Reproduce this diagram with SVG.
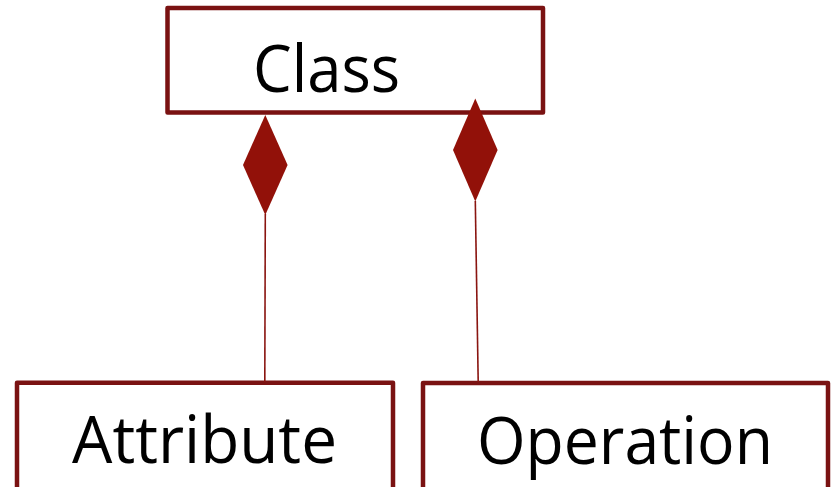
<svg xmlns="http://www.w3.org/2000/svg" width="837" height="487" viewBox="0 0 837 487">
  <defs>
    <style>
      .box { fill: #ffffff; stroke: #7a1212; stroke-width: 4.5; stroke-linejoin: round; }
      .label { font-family: "Open Sans", "Liberation Sans", sans-serif; font-size: 66px; fill: #000000; }
      .link { stroke: #8a1510; stroke-width: 1.6; fill: none; }
      .diamond { fill: #921109; stroke: none; }
    </style>
  </defs>
  <rect width="837" height="487" fill="#ffffff"/>

  <g id="class">
    <rect class="box" x="167.5" y="8" width="375.5" height="104.5"/>
    <text class="label" x="253" y="92" textLength="147" lengthAdjust="spacingAndGlyphs">Class</text>
  </g>

  <g id="attribute">
    <rect class="box" x="17" y="382.7" width="376" height="120"/>
    <text class="label" x="72" y="463" textLength="265" lengthAdjust="spacingAndGlyphs">Attribute</text>
  </g>

  <g id="operation">
    <rect class="box" x="423" y="383" width="405" height="120"/>
    <text class="label" x="477" y="464" textLength="296" lengthAdjust="spacingAndGlyphs">Operation</text>
  </g>

  <!-- composition connectors, drawn on top of the boxes -->
  <g id="connectors">
    <line class="link" x1="265.3" y1="214" x2="264.8" y2="382"/>
    <polygon class="diamond" points="265.3,115 287.6,165 265.3,215 243,165"/>
    <line class="link" x1="475.3" y1="201" x2="478.2" y2="382"/>
    <polygon class="diamond" points="475.3,98.5 497.6,150 475.3,201.5 453,150"/>
  </g>
</svg>
